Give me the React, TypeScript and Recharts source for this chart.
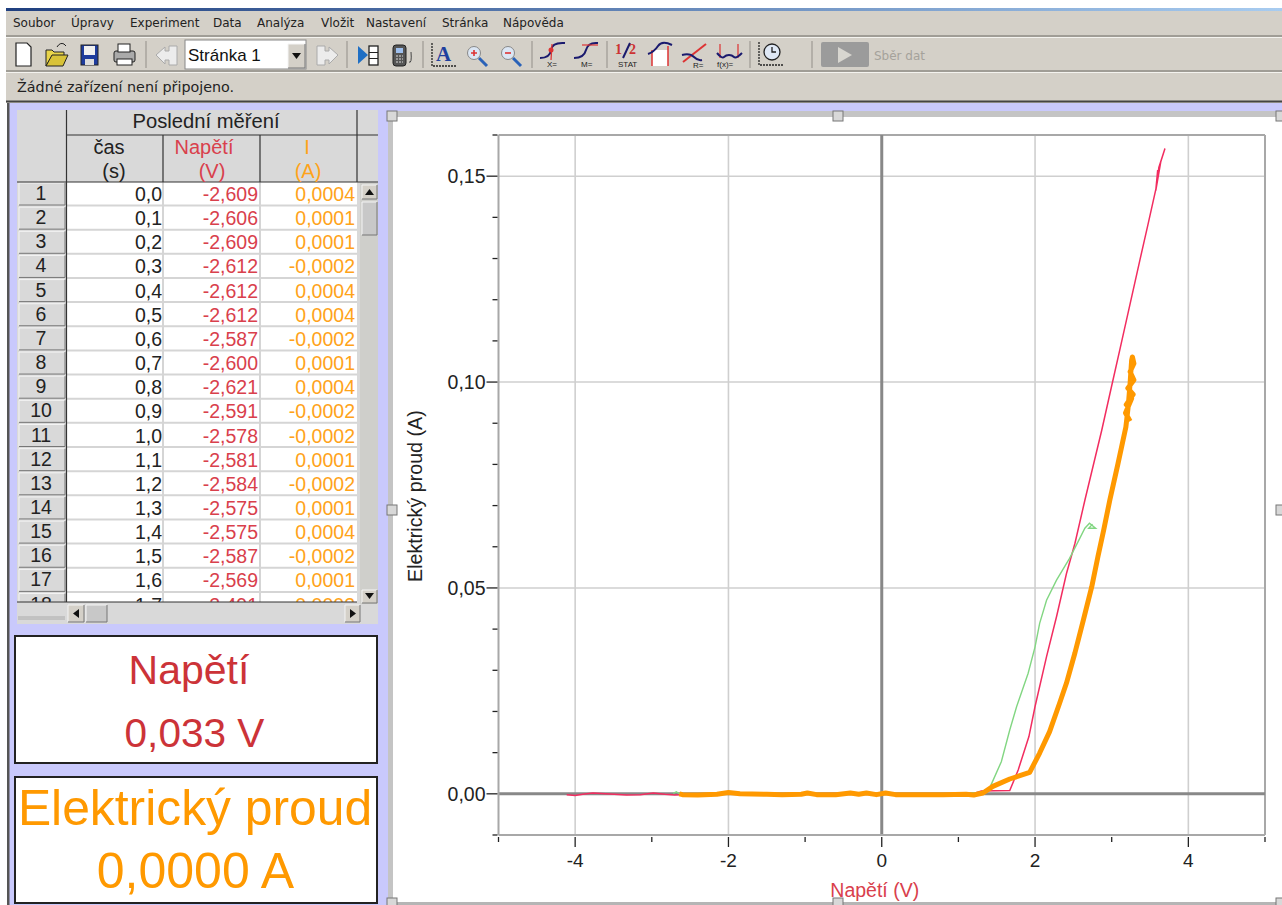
import { LineChart, Line, XAxis, YAxis, CartesianGrid, ReferenceLine } from "recharts";

const menuItems = ["Soubor", "Úpravy", "Experiment", "Data", "Analýza", "Vložit", "Nastavení", "Stránka", "Nápověda"];
const menuLefts = [13, 71, 130, 213, 257, 321, 366, 442, 503];

const timeCol = ["0,0", "0,1", "0,2", "0,3", "0,4", "0,5", "0,6", "0,7", "0,8", "0,9", "1,0", "1,1", "1,2", "1,3", "1,4", "1,5", "1,6", "1,7"];
const voltCol = ["-2,609", "-2,606", "-2,609", "-2,612", "-2,612", "-2,612", "-2,587", "-2,600", "-2,621", "-2,591", "-2,578", "-2,581", "-2,584", "-2,575", "-2,575", "-2,587", "-2,569", "-2,491"];
const ampCol = ["0,0004", "0,0001", "0,0001", "-0,0002", "0,0004", "0,0004", "-0,0002", "0,0001", "0,0004", "-0,0002", "-0,0002", "0,0001", "-0,0002", "0,0001", "0,0004", "-0,0002", "0,0001", "-0,0002"];

const xTicks = [-5, -4, -3, -2, -1, 0, 1, 2, 3, 4, 5];
const yTicks = [-0.01, 0, 0.01, 0.02, 0.03, 0.04, 0.05, 0.06, 0.07, 0.08, 0.09, 0.1, 0.11, 0.12, 0.13, 0.14, 0.15, 0.16];

// [napeti, proud]
const redRun = [
  [-4.11, -0.0002], [-4.0, -0.0004], [-3.9, -0.0001], [-3.77, 0.0002], [-3.6, 0], [-3.33, -0.0003], [-3.15, -0.0002],
  [-2.98, 0.0002], [-2.83, -0.0001], [-2.7, -0.0003], [-2.4, 0], [-1.5, -0.0001], [-0.5, 0.0001], [0.5, -0.0001], [1.2, 0.0001],
  [1.3, 0.0007], [1.67, 0.0008], [1.78, 0.0058], [1.92, 0.0139], [2.0, 0.0212], [2.15, 0.0333], [2.28, 0.043], [2.41, 0.0535],
  [2.52, 0.0608], [2.65, 0.0713], [2.87, 0.0883], [3.0, 0.0991], [3.11, 0.1082], [3.24, 0.119], [3.37, 0.1298], [3.47, 0.138],
  [3.585, 0.1476], [3.615, 0.1521], [3.695, 0.1567], [3.64, 0.1535], [3.575, 0.1465], [3.6, 0.1515],
];
const greenRun = [
  [-2.72, 0.0001], [-2.68, 0.0005], [-2.64, 0], [-1.5, 0], [0, 0], [1.1, 0.0001], [1.3, 0.0004],
  [1.41, 0.0015], [1.56, 0.0078], [1.67, 0.0155], [1.76, 0.0212], [1.91, 0.0293], [2.0, 0.0357], [2.06, 0.0414],
  [2.15, 0.047], [2.28, 0.0519], [2.45, 0.0572], [2.56, 0.0612], [2.65, 0.0645], [2.71, 0.0657], [2.79, 0.0645], [2.7, 0.0645], [2.75, 0.0655],
];
const orangeRun = [
  [-2.64, 0], [-2.6, -0.0002], [-2.4, -0.0003], [-2.15, -0.0001], [-2.0, 0.0003], [-1.85, 0], [-1.5, -0.0001], [-1.3, -0.0002],
  [-1.05, -0.0001], [-0.97, 0.0002], [-0.85, -0.0002], [-0.6, -0.0002], [-0.41, 0.0002], [-0.3, -0.0001], [-0.2, 0.0002], [-0.07, -0.0002],
  [0.05, 0.0002], [0.18, -0.0002], [0.45, -0.0002], [0.8, -0.0002], [1.1, -0.0001], [1.2, -0.0003], [1.32, 0.0002], [1.45, 0.0018],
  [1.67, 0.0036], [1.93, 0.0052], [2.06, 0.0099], [2.19, 0.0151], [2.32, 0.022], [2.41, 0.0269], [2.52, 0.0342], [2.63, 0.0422],
  [2.74, 0.0503], [2.82, 0.0576], [2.895, 0.064], [2.975, 0.0713], [3.08, 0.08], [3.185, 0.0891], [3.215, 0.094], [3.24, 0.0997], [3.26, 0.1053],
  [3.27, 0.1061], [3.29, 0.1045], [3.24, 0.1025], [3.29, 0.1005], [3.21, 0.0985], [3.28, 0.097], [3.19, 0.0945], [3.26, 0.096], [3.18, 0.0925], [3.24, 0.0905],
];

const toPoints = (run: number[][]) => run.map(([v, i]) => ({ v, i }));

const SANS = "'Liberation Sans', Arial, sans-serif";
const UI = "'DejaVu Sans', Tahoma, sans-serif";
const FACE = "#d4d0c8";
const CELL = "#d9d9d9";
const LAVENDER = "#c9c9fc";
const RED_TXT = "#d9404c";
const ORANGE_TXT = "#ffa31a";

function XTick({ x, y, payload }: any) {
  const major = payload.value % 2 === 0;
  return (
    <g>
      <line x1={x} x2={x} y1={y + 2} y2={y + (major ? 12 : 7)} stroke="#222" strokeWidth={1.3} />
      {major && (
        <text x={x} y={y + 32} textAnchor="middle" fontFamily={SANS} fontSize={19} fill="#222">{payload.value}</text>
      )}
    </g>
  );
}

function YTick({ x, y, payload }: any) {
  const major = Math.round(payload.value * 100) % 5 === 0;
  return (
    <g>
      <line x1={x - (major ? 12 : 6)} x2={x - 1} y1={y} y2={y} stroke="#222" strokeWidth={1.3} />
      {major && (
        <text x={x - 13} y={y + 7} textAnchor="end" fontFamily={SANS} fontSize={19.5} fill="#222">
          {payload.value.toFixed(2).replace(".", ",")}
        </text>
      )}
    </g>
  );
}

function Raised({ x, y, w, h, fill = FACE }: any) {
  return (
    <g>
      <rect x={x} y={y} width={w} height={h} fill={fill} />
      <path d={`M${x} ${y + h}V${y}H${x + w}`} stroke="#f4f4f4" fill="none" />
      <path d={`M${x} ${y + h}H${x + w}V${y}`} stroke="#777" fill="none" />
    </g>
  );
}

function Handle({ x, y }: any) {
  return <rect x={x - 5} y={y - 5} width={10} height={10} fill="#d8d8d8" stroke="#777" />;
}

function Sep({ x }: any) {
  return <line x1={x} x2={x} y1={41} y2={68} stroke="#a8a59e" strokeWidth={1.5} />;
}

function Toolbar() {
  return (
    <g>
      {/* soubor */}
      <path d="M16 43h11l4 4v19H16z" fill="#fff" stroke="#222" strokeWidth={1.2} />
      <path d="M46 50h6l2 2h10v4H52l-6 10z" fill="#e8d44a" stroke="#222" />
      <path d="M46 66l6-11h16l-5 11z" fill="#d8c238" stroke="#222" />
      <path d="M57 47q3-5 7-3l2 2" fill="none" stroke="#222" />
      <rect x={81} y={45} width={17} height={20} fill="#1e3c9e" stroke="#222" />
      <rect x={84} y={46} width={11} height={9} fill="#f0f0f0" />
      <rect x={85} y={59} width={9} height={6} fill="#ddd" />
      <rect x={114} y={51} width={21} height={11} rx={2} fill="#aaa" stroke="#222" />
      <rect x={118} y={44} width={12} height={8} fill="#fff" stroke="#222" />
      <rect x={117} y={59} width={15} height={6} fill="#fff" stroke="#222" />
      <Sep x={146} />
      <path d="M156 55l9-8v4h4v-5h8v19h-8v-5h-4v4z" fill="#ececec" stroke="#aaa" />
      <rect x={185} y={40} width={121} height={29} fill="#fff" stroke="#888" />
      <text x={188} y={61} fontFamily={SANS} fontSize={17} fill="#111">Stránka 1</text>
      <Raised x={288} y={44} w={17} h={24} />
      <path d="M292 53h9l-4.500 6z" fill="#111" />
      <path d="M338 55l-9-8v4h-4v-5h-8v19h8v-5h4v4z" fill="#ececec" stroke="#aaa" />
      <Sep x={347} />
      {/* mereni */}
      <path d="M358 46l10 9-10 9z" fill="#1f6fc4" />
      <rect x={369} y={46} width={9} height={19} fill="#fff" stroke="#222" strokeWidth={1.3} />
      <path d="M369 52.500h9M369 58.500h9" stroke="#222" />
      <rect x={393} y={45} width={13} height={21} rx={3} fill="#555" stroke="#222" />
      <rect x={396} y={48} width={7} height={5} fill="#9fc0ee" />
      <path d="M396 56h7M396 59h7M396 62h7" stroke="#ddd" strokeDasharray="2 1" />
      <path d="M409 62q3 2 2-10" fill="none" stroke="#444" />
      <Sep x={423} />
      {/* osy a lupy */}
      <path d="M432 43v23h24" fill="none" stroke="#222" strokeWidth={1.3} strokeDasharray="2 1" />
      <text x={436} y={61} fontFamily="'Liberation Serif', serif" fontWeight="bold" fontSize={21} fill="#1e3f9e">A</text>
      <circle cx={474} cy={53} r={6.500} fill="#dbe6f4" stroke="#888" />
      <path d="M471 53h6M474 50v6" stroke="#d33" strokeWidth={1.6} />
      <path d="M479 58l8 8" stroke="#2a62b8" strokeWidth={3} />
      <circle cx={508} cy={53} r={6.500} fill="#dbe6f4" stroke="#888" />
      <path d="M505 53h6" stroke="#d33" strokeWidth={1.6} />
      <path d="M513 58l8 8" stroke="#2a62b8" strokeWidth={3} />
      <Sep x={532} />
      {/* analyza */}
      <path d="M540 58q10 0 11-8t14-7" fill="none" stroke="#1a1a6e" strokeWidth={2} />
      <path d="M552 44l-1 16" stroke="#d33" strokeWidth={1.2} />
      <circle cx={551} cy={50} r={2.500} fill="#d33" />
      <text x={547} y={67} fontFamily={SANS} fontSize={8} fill="#222">X=</text>
      <path d="M574 58q10 0 12-8t12-7" fill="none" stroke="#1a1a6e" strokeWidth={2} />
      <path d="M582 45h16" stroke="#d33" strokeWidth={1.2} />
      <text x={581} y={67} fontFamily={SANS} fontSize={8} fill="#222">M=</text>
      <Sep x={607} />
      <text x={615} y={54} fontFamily="'Liberation Serif', serif" fontWeight="bold" fontSize={14} fill="#c33">1</text>
      <path d="M623 58l7-15" stroke="#1a1a6e" strokeWidth={2} />
      <text x={629} y={54} fontFamily="'Liberation Serif', serif" fontWeight="bold" fontSize={14} fill="#c33">2</text>
      <text x={618} y={67} fontFamily={SANS} fontSize={8} fill="#222">STAT</text>
      <rect x={652} y={50} width={16} height={16} fill="#fff" />
      <path d="M652 50v16M668 46v20" stroke="#d33" strokeWidth={1.5} />
      <path d="M648 54q6-2 10-8t14-1" fill="none" stroke="#1a1a6e" strokeWidth={2} />
      <path d="M683 62l23-18" stroke="#d33" strokeWidth={2} />
      <path d="M682 55q8-2 12 2t8 3" fill="none" stroke="#1a1a6e" strokeWidth={2} />
      <text x={693} y={68} fontFamily={SANS} fontSize={8} fill="#222">R=</text>
      <path d="M720 44v14M738 44v14" stroke="#d33" strokeWidth={1.2} />
      <path d="M717 53q5 6 7 4t5-2 5 2 8-4" fill="none" stroke="#1a1a6e" strokeWidth={2} />
      <text x={717} y={67} fontFamily={SANS} fontSize={8} fill="#222">f(x)=</text>
      <Sep x={750} />
      <path d="M759 42v23h24" fill="none" stroke="#222" strokeWidth={1.3} strokeDasharray="2 1" />
      <circle cx={772} cy={52} r={8} fill="#dfe8f5" stroke="#222" strokeWidth={1.3} />
      <path d="M772 47v5h4" fill="none" stroke="#222" strokeWidth={1.3} />
      <Sep x={812} />
      <rect x={821} y={42} width={48} height={25} rx={2} fill="#9b9b9b" />
      <path d="M838 47l14 8-14 8z" fill="#d8d6d0" />
      <text x={874} y={60} fontFamily={UI} fontSize={12} fill="#a5a29b">Sběr dat</text>
    </g>
  );
}

function DataTable() {
  const rowTop = (i: number) => 182 + i * 24.15;
  return (
    <g>
      <rect x={17} y={110} width={361} height={514} fill={CELL} />
      <rect x={67} y={182} width={290} height={420} fill="#fff" />
      <clipPath id="rows"><rect x={17} y={182} width={340} height={420} /></clipPath>
      <g clipPath="url(#rows)" fontFamily={SANS} fontSize={19.5}>
        {timeCol.map((t, i) => (
          <g key={t}>
            <Raised x={19} y={rowTop(i) + 1} w={46} h={22} fill={CELL} />
            <line x1={67} x2={357} y1={rowTop(i) + 23.5} y2={rowTop(i) + 23.5} stroke="#d5d5d5" strokeWidth={2} />
            <text x={41} y={rowTop(i) + 18} textAnchor="middle" fill="#222">{i + 1}</text>
            <text x={162} y={rowTop(i) + 19} textAnchor="end" fill="#222">{t}</text>
            <text x={258} y={rowTop(i) + 19} textAnchor="end" fill={RED_TXT}>{voltCol[i]}</text>
            <text x={355} y={rowTop(i) + 19} textAnchor="end" fill={ORANGE_TXT}>{ampCol[i]}</text>
          </g>
        ))}
        <path d="M163 182V602M260 182V602" stroke="#d5d5d5" strokeWidth={2} />
      </g>
      <path d="M66.500 110V602M66 135H378M17 182H378M163 135V182M260 135V182M357 110V182M17 602H357" stroke="#333" strokeWidth={1.2} fill="none" />
      <g fontFamily={SANS} fontSize={20} textAnchor="middle">
        <text x={206} y={128} fontSize={20.2} fill="#222">Poslední měření</text>
        <text x={109} y={154} fill="#222">čas</text>
        <text x={114} y={178} fill="#222">(s)</text>
        <text x={204} y={154} fill={RED_TXT}>Napětí</text>
        <text x={212} y={178} fill={RED_TXT}>(V)</text>
        <text x={307} y={154} fill={ORANGE_TXT}>I</text>
        <text x={308} y={178} fill={ORANGE_TXT}>(A)</text>
      </g>
      {/* posuvniky */}
      <rect x={360} y={183} width={18} height={421} fill="#cfcfcb" />
      <Raised x={362} y={185} w={15} h={14} />
      <path d="M365 195h9l-4.500-6z" fill="#111" />
      <Raised x={362} y={202} w={15} h={33} fill="#c8c8c8" />
      <Raised x={362} y={590} w={15} h={13} />
      <path d="M365 593h9l-4.500 6z" fill="#111" />
      <path d="M18 617H65M18 619H65" stroke="#aaa" />
      <Raised x={68} y={605} w={16} h={17} />
      <path d="M79 609v9l-6-4.500z" fill="#111" />
      <Raised x={86} y={605} w={21} h={17} fill="#c8c8c8" />
      <Raised x={345} y={605} w={15} h={17} />
      <path d="M350 609v9l6-4.500z" fill="#111" />
    </g>
  );
}

function Meters() {
  return (
    <g fontFamily={SANS} textAnchor="middle">
      <rect x={15} y={636} width={362} height={127} fill="#fff" stroke="#222" strokeWidth={2} />
      <text x={189} y={684} fontSize={41} fill="#cc3338">Napětí</text>
      <text x={194.500} y={747} fontSize={40.600} fill="#cc3338">0,033 V</text>
      <rect x={15} y={777} width={362} height={126} fill="#fff" stroke="#222" strokeWidth={2} />
      <text x={195} y={825} fontSize={49.800} fill="#ff9900">Elektrický proud</text>
      <text x={195.500} y={888} fontSize={50} fill="#ff9900">0,0000 A</text>
    </g>
  );
}

function Shell() {
  return (
    <svg width={1282} height={905} style={{ position: "absolute", left: 0, top: 0 }}>
      <defs>
        <linearGradient id="titleBar" x1="0" x2="1" y1="0" y2="0">
          <stop offset="0%" stopColor="#1f3f7f" />
          <stop offset="100%" stopColor="#a8ccf0" />
        </linearGradient>
      </defs>
      <rect x={6} y={8} width={1276} height={3} fill="url(#titleBar)" />
      <rect x={6} y={11} width={1276} height={92} fill={FACE} />
      <path d="M6 36H1282M6 71H1282" stroke="#8f8c85" strokeWidth={1.5} />
      <path d="M6 37.500H1282M6 72.500H1282" stroke="#f4f3ef" />
      <path d="M6 101.500H1282" stroke="#444" strokeWidth={2} />
      {menuItems.map((m, i) => (
        <text key={m} x={menuLefts[i]} y={27} fontFamily={UI} fontSize={12} fill="#222">{m}</text>
      ))}
      <Toolbar />
      <text x={17} y={92} fontFamily={UI} fontSize={14.300} fill="#222">Žádné zařízení není připojeno.</text>
      <rect x={8} y={103} width={1274} height={802} fill={LAVENDER} />
      <rect x={7} y={103} width={2.5} height={802} fill="#555" />
      <rect x={388} y={111} width={894} height={794} fill="#c4c4c4" />
      <rect x={393} y={117} width={889} height={786} fill="#fff" />
      <rect x={388} y={902} width={894} height={3} fill="#b5b5b5" />
      <DataTable />
      <Meters />
      <Handle x={392} y={116} />
      <Handle x={838} y={116} />
      <Handle x={1281} y={116} />
      <Handle x={392} y={510} />
      <Handle x={1281} y={510} />
      <Handle x={392} y={903} />
      <Handle x={838} y={903} />
      <Handle x={1281} y={903} />
    </svg>
  );
}

export default function App() {
  return (
    <div style={{ position: "absolute", left: 0, top: 0, width: 1282, height: 905, overflow: "hidden", background: "#fff" }}>
      <Shell />
      <div style={{ position: "absolute", left: 393, top: 118 }}>
        <LineChart width={887} height={785} margin={{ top: 17, right: 15, bottom: 0, left: 0 }}>
          <CartesianGrid
            stroke="#cfcfcf"
            strokeWidth={1.6}
            horizontalValues={[0.05, 0.1, 0.15]}
            verticalValues={[-4, -2, 2, 4]}
          />
          <XAxis
            type="number"
            dataKey="v"
            domain={[-5, 5]}
            ticks={xTicks}
            interval={0}
            height={68}
            tick={XTick}
            tickLine={false}
            tickSize={0}
            tickMargin={0}
            axisLine={{ stroke: "#a8a8a8", strokeWidth: 2 }}
            allowDataOverflow
            label={{ value: "Napětí (V)", position: "insideBottom", offset: 6, dx: -7, fontFamily: SANS, fontSize: 19.5, fill: RED_TXT }}
          />
          <YAxis
            type="number"
            domain={[-0.01, 0.16]}
            ticks={yTicks}
            interval={0}
            width={105.5}
            tick={YTick}
            tickLine={false}
            tickSize={0}
            tickMargin={0}
            axisLine={{ stroke: "#a8a8a8", strokeWidth: 2 }}
            allowDataOverflow
            label={{ value: "Elektrický proud (A)", angle: -90, position: "insideLeft", offset: 22, dy: 97, fontFamily: SANS, fontSize: 19.7, fill: "#222" }}
          />
          <ReferenceLine y={0.16} stroke="#a8a8a8" strokeWidth={2} />
          <ReferenceLine x={5} stroke="#a8a8a8" strokeWidth={2} />
          <ReferenceLine x={0} stroke="#888" strokeWidth={3} />
          <ReferenceLine y={0} stroke="#888" strokeWidth={3} />
          <Line data={toPoints(redRun)} dataKey="i" type="linear" stroke="#f22d60" strokeWidth={1.5} dot={false} isAnimationActive={false} />
          <Line data={toPoints(greenRun)} dataKey="i" type="linear" stroke="#82d682" strokeWidth={1.4} dot={false} isAnimationActive={false} />
          <Line data={toPoints(orangeRun)} dataKey="i" type="linear" stroke="#ff9900" strokeWidth={5} strokeLinejoin="round" dot={false} isAnimationActive={false} />
        </LineChart>
      </div>
    </div>
  );
}
